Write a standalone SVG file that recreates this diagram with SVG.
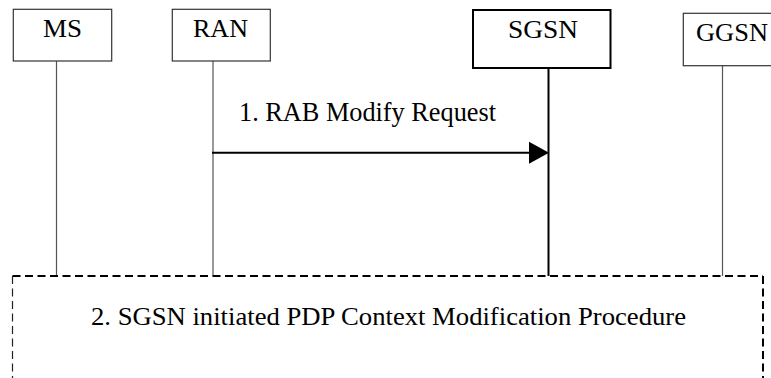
<svg xmlns="http://www.w3.org/2000/svg" width="771" height="378" viewBox="0 0 771 378">
<style>
  text { font-family: "Liberation Serif", "Times New Roman", serif; font-size: 25px; fill: #000; }
  .big { font-size: 27px; }
  .box { fill: #fff; stroke: #333; stroke-width: 1.2; }
  .boxb { fill: #fff; stroke: #000; stroke-width: 2; }
  .life { stroke: #555; stroke-width: 1.2; fill: none; }
  .lifeb { stroke: #000; stroke-width: 2; fill: none; }
  .msg { stroke: #000; stroke-width: 2; fill: none; }
  .dash { stroke: #000; stroke-width: 2; stroke-dasharray: 8 4.5; fill: none; }
  .dashthin { stroke: #222; stroke-width: 1.2; stroke-dasharray: 8 4.5; fill: none; }
</style>
<rect width="771" height="378" fill="#fff"/>
<g id="connectors">
  <line class="life" x1="56.5" y1="61" x2="56.5" y2="276"/>
  <line class="life" x1="213" y1="60" x2="213" y2="276"/>
  <line class="lifeb" x1="548.5" y1="68" x2="548.5" y2="276"/>
  <line class="life" x1="722.5" y1="65" x2="722.5" y2="276"/>
  <line class="msg" x1="212" y1="152.7" x2="531" y2="152.7"/>
  <polygon points="529,141.7 549,152.7 529,163.7" fill="#000"/>
</g>
<g id="node-ms">
  <rect class="box" x="13.3" y="9.3" width="98.4" height="51.7"/>
  <text x="62.5" y="36.7" text-anchor="middle" textLength="39" lengthAdjust="spacingAndGlyphs">MS</text>
</g>
<g id="node-ran">
  <rect class="box" x="172.3" y="9.3" width="98" height="51.7"/>
  <text x="220.5" y="36.7" text-anchor="middle" textLength="55" lengthAdjust="spacingAndGlyphs">RAN</text>
</g>
<g id="node-sgsn">
  <rect class="boxb" x="473" y="10" width="137.5" height="58"/>
  <text x="543" y="38" text-anchor="middle" textLength="70" lengthAdjust="spacingAndGlyphs">SGSN</text>
</g>
<g id="node-ggsn">
  <rect class="box" x="683.3" y="13.3" width="100" height="52.4"/>
  <text x="696" y="41" textLength="72" lengthAdjust="spacingAndGlyphs">GGSN</text>
</g>
<g id="label-1">
  <text class="big" x="239" y="120.5" textLength="257" lengthAdjust="spacingAndGlyphs">1. RAB Modify Request</text>
</g>
<g id="node-procedure">
  <line class="dash" x1="12.5" y1="276" x2="763" y2="276"/>
  <line class="dashthin" x1="12.5" y1="276" x2="12.5" y2="378"/>
  <line class="dash" x1="763" y1="276" x2="763" y2="378"/>
  <text x="91" y="325" textLength="595" lengthAdjust="spacingAndGlyphs">2. SGSN initiated PDP Context Modification Procedure</text>
</g>
</svg>
